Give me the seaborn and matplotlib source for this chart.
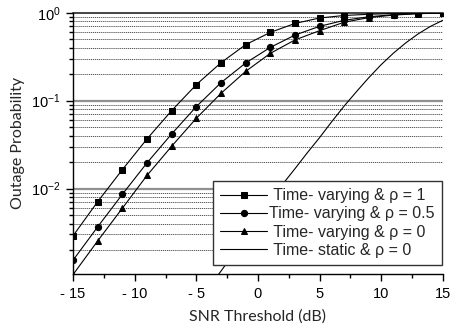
import numpy as np
import pandas as pd
import seaborn as sns
import matplotlib
matplotlib.use("Agg")
import matplotlib.pyplot as plt
from matplotlib.ticker import FixedLocator, FixedFormatter, NullFormatter

# ---- data ----
snr_markers = [-15, -13, -11, -9, -7, -5, -3, -1, 1, 3, 5, 7, 9, 11, 13, 15]
tv_rho1 = [0.0029, 0.0071, 0.0164, 0.0367, 0.077, 0.152, 0.27, 0.433, 0.597, 0.755,
           0.871, 0.93, 0.96, 0.98, 0.99, 1.0]
tv_rho05 = [0.00153, 0.00367, 0.0086, 0.0196, 0.0418, 0.0855, 0.16, 0.268, 0.403, 0.557,
            0.70, 0.82, 0.90, 0.95, 0.98, 0.995]
tv_rho0 = [0.00105, 0.00254, 0.00597, 0.0141, 0.0303, 0.063, 0.121, 0.215, 0.345, 0.49,
           0.625, 0.78, 0.88, 0.94, 0.975, 0.99]
snr_static = [-4, -3, -2, -1, 0, 1, 2, 3, 4, 5, 6, 7, 8, 9, 10, 11, 12, 13, 14, 15]
ts_rho0 = [0.00075, 0.00115, 0.0018, 0.0029, 0.0046, 0.0072, 0.0112, 0.0168, 0.0255, 0.038,
           0.058, 0.087, 0.127, 0.183, 0.257, 0.348, 0.455, 0.575, 0.70, 0.82]

labels = [" Time- varying & ρ = 1", "Time- varying & ρ = 0.5",
          " Time- varying & ρ = 0", " Time- static & ρ = 0"]
xtick_vals = [-15, -10, -5, 0, 5, 10, 15]
xtick_text = ["- 15", "- 10", "- 5", "0", "5", "10", "15"]

sns.set_theme(style="ticks")
plt.rcParams["font.family"] = ["Liberation Sans", "DejaVu Sans"]
plt.rcParams["mathtext.fontset"] = "custom"
plt.rcParams["mathtext.rm"] = "Liberation Sans"
plt.rcParams["mathtext.it"] = "Liberation Sans"

fig = plt.figure(figsize=(4.51, 3.31), dpi=100)
ax = fig.add_axes([0.162, 0.1737, 0.820, 0.7879])

df1 = pd.DataFrame({"x": snr_markers, "y": tv_rho1})
df2 = pd.DataFrame({"x": snr_markers, "y": tv_rho05})
df3 = pd.DataFrame({"x": snr_markers, "y": tv_rho0})
df4 = pd.DataFrame({"x": snr_static, "y": ts_rho0})

kw = dict(color="black", linewidth=0.8, ax=ax, markeredgecolor="black")
sns.lineplot(data=df1, x="x", y="y", marker="s", markersize=4.2, label=labels[0], **kw)
sns.lineplot(data=df2, x="x", y="y", marker="o", markersize=4.5, label=labels[1], **kw)
sns.lineplot(data=df3, x="x", y="y", marker="^", markersize=4.8, label=labels[2], **kw)
sns.lineplot(data=df4, x="x", y="y", label=labels[3], color="black", linewidth=0.8, ax=ax)

ax.set_yscale("log")
ax.set_xlim(-15, 15)
ax.set_ylim(0.00108, 1.0)

# grid lines
for d in [1e-3, 1e-2, 1e-1]:
    for m in range(2, 10):
        v = d * m
        if v > 0.00108:
            ax.axhline(v, color="#555555", linewidth=0.7, linestyle=(0, (1.2, 0.8)), zorder=0)
for d in [1e-2, 1e-1]:
    ax.axhline(d, color="#909090", linewidth=1.6, zorder=0)
ax.axhline(1.0, color="#444444", linewidth=1.4, zorder=0, clip_on=False)

ax.xaxis.set_major_locator(FixedLocator(xtick_vals))
ax.xaxis.set_major_formatter(FixedFormatter(xtick_text))
ax.xaxis.set_minor_locator(FixedLocator([-12.5, -7.5, -2.5, 2.5, 7.5, 12.5]))
ax.set_yticks([1e-2, 1e-1, 1.0])
ax.set_yticklabels([r"$10^{-2}$", r"$10^{-1}$", r"$10^{0}$"])
ax.yaxis.set_minor_locator(FixedLocator([d * m for d in [1e-3, 1e-2, 1e-1] for m in range(2, 10)]))
ax.yaxis.set_minor_formatter(NullFormatter())

ax.tick_params(axis="both", which="major", direction="out", length=5, width=1,
               colors="black", labelsize=10.5)
ax.tick_params(axis="both", which="minor", direction="out", length=3, width=1, colors="black")
ax.tick_params(axis="y", which="major", pad=4)
ax.tick_params(axis="x", which="major", pad=5)

for s in ["top", "right"]:
    ax.spines[s].set_visible(False)
for s in ["left", "bottom"]:
    ax.spines[s].set_color("black")
    ax.spines[s].set_linewidth(1.0)

ax.set_xlabel("SNR Threshold (dB)", fontsize=11.5, family=["Lato", "DejaVu Sans"], labelpad=6)
ax.set_ylabel("Outage Probability", fontsize=11.5, family=["Lato", "DejaVu Sans"], labelpad=4)

leg = ax.legend(loc="lower right", bbox_to_anchor=(0.997, 0.033), frameon=True, fancybox=False,
                edgecolor="#333333", framealpha=1, fontsize=11.5, handlelength=2.9,
                handletextpad=0.15, labelspacing=0.2, borderpad=0.45, borderaxespad=0)
leg.get_frame().set_linewidth(1.0)

fig.savefig("out.png", dpi=100)
